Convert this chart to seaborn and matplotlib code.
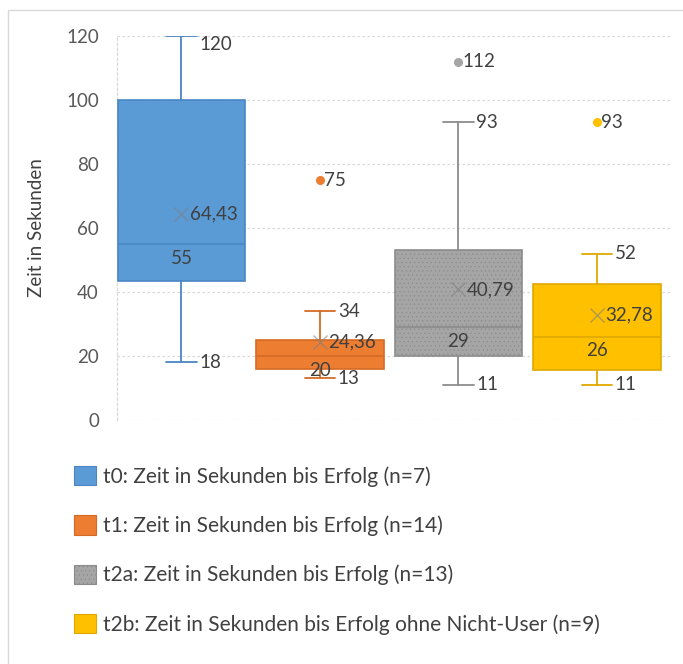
import numpy as np
import matplotlib
matplotlib.use('Agg')
import matplotlib.pyplot as plt
import seaborn as sns
from matplotlib.patches import Patch, Rectangle

# Kennwerte der Boxplots
gruppen = ['t0', 't1', 't2a', 't2b']
legenden = ['t0: Zeit in Sekunden bis Erfolg (n=7)',
            't1: Zeit in Sekunden bis Erfolg (n=14)',
            't2a: Zeit in Sekunden bis Erfolg (n=13)',
            't2b: Zeit in Sekunden bis Erfolg ohne Nicht-User (n=9)']
minimum = [18, 13, 11, 11]
q1 = [43.5, 16, 20, 15.5]
median = [55, 20, 29, 26]
q3 = [100, 25, 53, 42.5]
maximum = [120, 34, 93, 52]
mittelwert = [64.43, 24.36, 40.79, 32.78]
ausreisser = [[], [75], [112], [93]]

farben = ['#5B9BD5', '#ED7D31', '#A5A5A5', '#FFC000']
rahmen = ['#4A86C5', '#D46A24', '#8C8C8C', '#E0A800']
muster = [None, None, '....', None]
textfarbe = '#404040'

sns.set_theme(style='white')
plt.rcParams['font.family'] = ['Lato', 'DejaVu Sans']
plt.rcParams['hatch.linewidth'] = 0.4


def fmt(v):
    return f'{v:g}'.replace('.', ',')


fig = plt.figure(figsize=(6.83, 6.64), dpi=100)
ax = fig.add_axes([117 / 683, 1 - 420 / 664, (671 - 117) / 683, 384 / 664])

stats = []
for i, g in enumerate(gruppen):
    stats.append(dict(label=g, whislo=minimum[i], q1=q1[i], med=median[i],
                      q3=q3[i], whishi=maximum[i], mean=mittelwert[i],
                      fliers=ausreisser[i]))

pos = np.arange(len(gruppen))
teile = ax.bxp(stats, positions=pos, widths=0.92, capwidths=0.22,
               patch_artist=True, showmeans=True, manage_ticks=False, zorder=3)

for i in range(len(gruppen)):
    box = teile['boxes'][i]
    box.set_facecolor(farben[i])
    box.set_edgecolor(rahmen[i])
    box.set_linewidth(1.2)
    if muster[i]:
        box.set_hatch(muster[i])
    for ln in teile['whiskers'][2 * i:2 * i + 2] + teile['caps'][2 * i:2 * i + 2]:
        ln.set_color(rahmen[i])
        ln.set_linewidth(1.3)
    teile['medians'][i].set_color(rahmen[i])
    teile['medians'][i].set_linewidth(1.2)
    m = teile['means'][i]
    m.set_marker('x')
    m.set_markersize(10)
    m.set_markeredgewidth(1.0)
    m.set_markeredgecolor('#7F7F7F')
    m.set_alpha(0.6)
    f = teile['fliers'][i]
    f.set_marker('o')
    f.set_markersize(5.5)
    f.set_markerfacecolor(farben[i])
    f.set_markeredgecolor(farben[i])

    # Datenbeschriftungen
    p = pos[i]
    for v in (minimum[i], maximum[i]):
        va = 'top' if v >= 120 else 'center'
        ax.annotate(fmt(v), (p + 0.11, v), xytext=(2, 0), textcoords='offset points',
                    ha='left', va=va, fontsize=13.5, color=textfarbe, zorder=5)
    ax.annotate(fmt(median[i]), (p, median[i]), xytext=(0, -4), textcoords='offset points',
                ha='center', va='top', fontsize=13.5, color=textfarbe, zorder=5)
    ax.annotate(fmt(mittelwert[i]), (p, mittelwert[i]), xytext=(6, 0), textcoords='offset points',
                ha='left', va='center', fontsize=13.5, color=textfarbe, zorder=5)
    for v in ausreisser[i]:
        ax.annotate(fmt(v), (p, v), xytext=(3, 0), textcoords='offset points',
                    ha='left', va='center', fontsize=13.5, color=textfarbe, zorder=5)

ax.set_xlim(-0.465, 3.535)
ax.set_ylim(0, 120)
ax.set_yticks(np.arange(0, 121, 20))
ax.set_xticks([])
ax.tick_params(axis='y', length=0, pad=13, labelsize=13.5, labelcolor='#595959')
ax.yaxis.grid(True, color='#D9D9D9', linestyle=(0, (2, 2)), linewidth=0.9, zorder=0)
ax.set_axisbelow(True)
for s in ['top', 'right', 'bottom']:
    ax.spines[s].set_visible(False)
ax.spines['left'].set_color('#D9D9D9')
ax.spines['left'].set_linestyle((0, (2, 2)))
ax.spines['left'].set_linewidth(0.9)
ax.set_ylabel('Zeit in Sekunden', fontsize=13.5, color='#404040')
ax.yaxis.set_label_coords(-0.13, 0.5)

handles = [Patch(facecolor=farben[i], edgecolor=rahmen[i], hatch=muster[i], linewidth=0.8)
           for i in range(len(gruppen))]
fig.legend(handles, legenden, loc='upper left', bbox_to_anchor=(74 / 683, 1 - 466 / 664),
           frameon=False, fontsize=15, handlelength=1.05, handleheight=1.05,
           handletextpad=0.35, labelspacing=1.37, borderaxespad=0, borderpad=0,
           labelcolor=textfarbe)

fig.add_artist(Rectangle((8 / 683, -0.05), 1.0, 1.05 - 10 / 664, transform=fig.transFigure,
                         fill=False, edgecolor='#D9D9D9', linewidth=1.0))

fig.savefig('out.png', dpi=100)
